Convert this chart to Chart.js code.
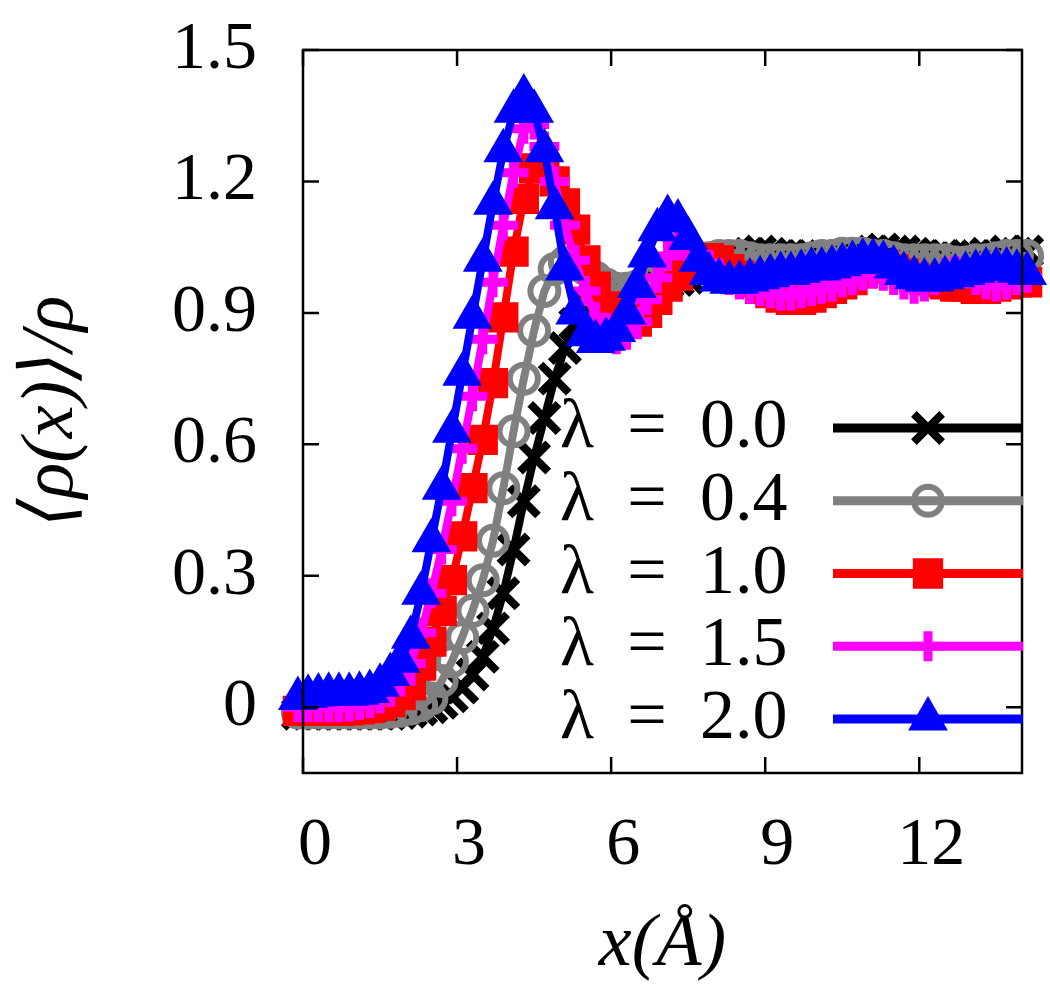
<!DOCTYPE html>
<html>
<head>
<meta charset="utf-8">
<title>density profile</title>
<script src="https://cdn.jsdelivr.net/npm/chart.js@4.4.1/dist/chart.umd.min.js"></script>
<style>
  html, body { margin: 0; padding: 0; background: #fff; }
  canvas { display: block; }
</style>
</head>
<body>
<canvas id="densityChart" width="1050" height="1002"></canvas>
<script>
// x positions (Å) of the samples
const xValues = [
  -0.1, 0.1, 0.3, 0.5, 0.7, 0.9, 1.1, 1.3, 1.5, 1.7,
  1.9, 2.1, 2.3, 2.5, 2.7, 2.9, 3.1, 3.3, 3.5, 3.7,
  3.9, 4.1, 4.3, 4.5, 4.7, 4.9, 5.1, 5.3, 5.5, 5.7,
  5.9, 6.1, 6.3, 6.5, 6.7, 6.9, 7.1, 7.3, 7.5, 7.7,
  7.9, 8.1, 8.3, 8.5, 8.7, 8.9, 9.1, 9.3, 9.5, 9.7,
  9.9, 10.1, 10.3, 10.5, 10.7, 10.9, 11.1, 11.3, 11.5, 11.7,
  11.9, 12.1, 12.3, 12.5, 12.7, 12.9, 13.1, 13.3, 13.5, 13.7,
  13.9, 14.1
];

// <rho(x)>/rho for each lambda
const lambda00 = [
  -0.015, -0.015, -0.015, -0.015, -0.015, -0.015, -0.015, -0.015, -0.015, -0.015,
  -0.013, -0.01, -0.005, 0.0, 0.01, 0.025, 0.045, 0.075, 0.115, 0.18,
  0.26, 0.36, 0.47, 0.57, 0.66, 0.75, 0.82, 0.875, 0.915, 0.935,
  0.95, 0.95, 0.95, 0.955, 0.96, 0.965, 0.97, 0.975, 0.98, 0.99,
  1.0, 1.01, 1.02, 1.03, 1.035, 1.04, 1.035, 1.03, 1.03, 1.03,
  1.03, 1.02, 1.02, 1.03, 1.035, 1.035, 1.04, 1.045, 1.04, 1.04,
  1.035, 1.03, 1.025, 1.03, 1.025, 1.03, 1.03, 1.035, 1.03, 1.04,
  1.035, 1.04
];
const lambda04 = [
  -0.012, -0.012, -0.012, -0.012, -0.012, -0.012, -0.012, -0.012, -0.012, -0.01,
  -0.008, -0.003, 0.005, 0.02, 0.06, 0.105, 0.16, 0.22, 0.29, 0.38,
  0.50, 0.63, 0.75, 0.86, 0.95, 1.0, 1.015, 1.01, 1.0, 0.98,
  0.965, 0.955, 0.955, 0.96, 0.97, 0.98, 0.99, 1.0, 1.01, 1.02,
  1.025, 1.03, 1.03, 1.03, 1.025, 1.02, 1.02, 1.02, 1.02, 1.02,
  1.025, 1.03, 1.03, 1.035, 1.035, 1.035, 1.03, 1.03, 1.025, 1.02,
  1.02, 1.02, 1.02, 1.02, 1.015, 1.015, 1.02, 1.02, 1.025, 1.03,
  1.03, 1.03
];
const lambda10 = [
  -0.008, -0.008, -0.008, -0.008, -0.008, -0.007, -0.005, -0.002, 0.003, 0.012,
  0.028, 0.05, 0.095, 0.15, 0.22, 0.29, 0.39, 0.50, 0.61, 0.74,
  0.89, 1.04, 1.16, 1.23, 1.23, 1.20, 1.15, 1.09, 1.02, 0.96,
  0.915, 0.89, 0.875, 0.88, 0.90, 0.93, 0.96, 0.985, 1.005, 1.02,
  1.025, 1.02, 1.0, 0.985, 0.97, 0.955, 0.945, 0.935, 0.93, 0.93,
  0.935, 0.945, 0.955, 0.965, 0.975, 0.99, 1.005, 1.01, 1.0, 0.99,
  0.98, 0.975, 0.97, 0.965, 0.96, 0.96, 0.955, 0.955, 0.96, 0.965,
  0.97, 0.97
];
const lambda15 = [
  0.0, 0.0, 0.0, 0.0, 0.0, 0.002, 0.005, 0.01, 0.02, 0.035,
  0.06, 0.10, 0.17, 0.26, 0.36, 0.47, 0.59, 0.71, 0.84, 0.97,
  1.10, 1.22, 1.32, 1.33, 1.28, 1.20, 1.10, 1.02, 0.95, 0.89,
  0.855, 0.84, 0.85, 0.88, 0.93, 0.98, 1.03, 1.055, 1.05, 1.03,
  1.01, 0.99, 0.975, 0.965, 0.955, 0.95, 0.945, 0.94, 0.94, 0.945,
  0.95, 0.955, 0.96, 0.97, 0.975, 0.985, 0.99, 0.985, 0.975, 0.965,
  0.955, 0.96, 0.975, 0.99, 0.995, 0.99, 0.975, 0.965, 0.96, 0.965,
  0.975, 0.98
];
const lambda20 = [
  0.02, 0.025, 0.028, 0.03, 0.03, 0.03, 0.032, 0.036, 0.05, 0.075,
  0.105, 0.16, 0.26, 0.38, 0.50, 0.63, 0.76, 0.89, 1.02, 1.15,
  1.27, 1.36, 1.395, 1.36, 1.27, 1.14, 1.0, 0.9, 0.85, 0.835,
  0.84, 0.86, 0.9, 0.96, 1.03, 1.09, 1.12, 1.11, 1.07, 1.02,
  0.99, 0.975, 0.97, 0.97, 0.975, 0.98, 0.985, 0.99, 0.99, 0.995,
  1.0, 1.0, 1.005, 1.01, 1.015, 1.02, 1.02, 1.015, 1.005, 0.99,
  0.98, 0.975, 0.975, 0.98, 0.985, 0.99, 0.995, 1.0, 1.0, 1.0,
  0.995, 0.99
];

const lambdaLabels = ['0.0', '0.4', '1.0', '1.5', '2.0'];
const xTicks = [0, 3, 6, 9, 12];
const xTickLabels = ['0', '3', '6', '9', '12'];
const yTicks = [0, 0.3, 0.6, 0.9, 1.2, 1.5];
const yTickLabels = ['0', '0.3', '0.6', '0.9', '1.2', '1.5'];

// look of each curve (gnuplot-like point types)
const styles = [
  { color: '#000000', pointStyle: 'crossRot', radius: 20, pointBorder: 8, fill: 'rgba(0,0,0,0)' },
  { color: '#808080', pointStyle: 'circle', radius: 14, pointBorder: 6, fill: 'rgba(0,0,0,0)' },
  { color: '#ff0000', pointStyle: 'rect', radius: 20, pointBorder: 2, fill: '#ff0000' },
  { color: '#ff00ff', pointStyle: 'cross', radius: 15, pointBorder: 9, fill: 'rgba(0,0,0,0)' },
  { color: '#0000ff', pointStyle: 'triangle', radius: 21, pointBorder: 2, fill: '#0000ff' }
];

const FONT = "'Liberation Serif', 'DejaVu Serif', serif";
const seriesValues = [lambda00, lambda04, lambda10, lambda15, lambda20];

const datasets = seriesValues.map((vals, i) => ({
  label: 'λ = ' + lambdaLabels[i],
  data: vals.map((v, k) => ({ x: xValues[k], y: v })),
  borderColor: styles[i].color,
  borderWidth: 8,
  tension: 0,
  pointStyle: styles[i].pointStyle,
  pointRadius: styles[i].radius,
  pointBorderWidth: styles[i].pointBorder,
  pointBorderColor: styles[i].color,
  pointBackgroundColor: styles[i].fill,
  clip: false,
  order: seriesValues.length - i
}));

// border with inward ticks on all four sides, drawn on top of the curves
const framePlugin = {
  id: 'frame',
  afterDatasetsDraw(chart) {
    const { ctx, chartArea: a, scales: { x, y } } = chart;
    ctx.save();
    ctx.strokeStyle = '#000';
    ctx.lineWidth = 2.5;
    ctx.beginPath();
    xTicks.forEach(v => {
      const px = x.getPixelForValue(v);
      ctx.moveTo(px, a.bottom); ctx.lineTo(px, a.bottom - 16);
      ctx.moveTo(px, a.top); ctx.lineTo(px, a.top + 16);
    });
    yTicks.forEach(v => {
      const py = y.getPixelForValue(v);
      ctx.moveTo(a.left, py); ctx.lineTo(a.left + 16, py);
      ctx.moveTo(a.right, py); ctx.lineTo(a.right - 16, py);
    });
    ctx.stroke();
    ctx.strokeRect(a.left, a.top, a.right - a.left, a.bottom - a.top);
    ctx.restore();
  }
};

// key in the lower right: text on the left, line sample with marker on the right
const keyPlugin = {
  id: 'key',
  afterDraw(chart) {
    const ctx = chart.ctx;
    const top = 428, step = 72.75;
    ctx.save();
    chart.data.datasets.forEach((ds, i) => {
      const yRow = top + i * step;
      ctx.fillStyle = '#000';
      ctx.textBaseline = 'alphabetic';
      ctx.textAlign = 'left';
      ctx.font = '70px ' + FONT;
      ctx.fillText('λ', 560, yRow + 19);
      ctx.textAlign = 'center';
      ctx.fillText('=', 647, yRow + 19);
      ctx.textAlign = 'left';
      ctx.fillText(lambdaLabels[i], 700, yRow + 19);

      ctx.strokeStyle = ds.borderColor;
      ctx.lineWidth = 9;
      ctx.beginPath();
      ctx.moveTo(833, yRow);
      ctx.lineTo(1023, yRow);
      ctx.stroke();

      ctx.fillStyle = ds.pointBackgroundColor;
      ctx.strokeStyle = ds.pointBorderColor;
      ctx.lineWidth = ds.pointBorderWidth;
      if (Chart.helpers && Chart.helpers.drawPoint) {
        Chart.helpers.drawPoint(ctx, {
          pointStyle: ds.pointStyle, radius: ds.pointRadius,
          borderWidth: ds.pointBorderWidth, rotation: 0
        }, 928, yRow);
      }
    });
    ctx.restore();
  }
};

const ctx = document.getElementById('densityChart').getContext('2d');
new Chart(ctx, {
  type: 'line',
  data: { datasets },
  options: {
    responsive: false,
    animation: false,
    devicePixelRatio: 1,
    layout: { padding: { top: 50, right: 24, left: 0, bottom: 0 } },
    plugins: {
      legend: { display: false },
      tooltip: { enabled: false },
      title: { display: false }
    },
    scales: {
      x: {
        type: 'linear',
        min: 0,
        max: 14,
        afterBuildTicks: s => { s.ticks = xTicks.map(v => ({ value: v })); },
        afterFit: s => { s.height = 229; s.paddingLeft = 0; s.paddingRight = 0; },
        grid: { display: false, drawTicks: false },
        border: { display: false },
        ticks: {
          autoSkip: false,
          maxRotation: 0,
          color: '#000',
          padding: 32,
          labelOffset: 12,
          font: { family: FONT, size: 68 },
          callback: (v, i) => xTickLabels[i]
        },
        title: {
          display: true,
          text: 'x(Å)',
          color: '#000',
          font: { family: FONT, size: 74, style: 'italic' },
          padding: { top: 0, bottom: 12 }
        }
      },
      y: {
        min: -0.15,
        max: 1.5,
        afterBuildTicks: s => { s.ticks = yTicks.map(v => ({ value: v })); },
        afterFit: s => { s.width = 303; s.paddingTop = 0; s.paddingBottom = 0; },
        grid: { display: false, drawTicks: false },
        border: { display: false },
        ticks: {
          color: '#000',
          padding: 46,
          font: { family: FONT, size: 68 },
          callback: (v, i) => yTickLabels[i]
        },
        title: {
          display: true,
          text: '⟨ρ(x)⟩/ρ',
          color: '#000',
          font: { family: FONT, size: 74, style: 'italic' },
          padding: { top: 8, bottom: 0 }
        }
      }
    }
  },
  plugins: [framePlugin, keyPlugin]
});
</script>
</body>
</html>
